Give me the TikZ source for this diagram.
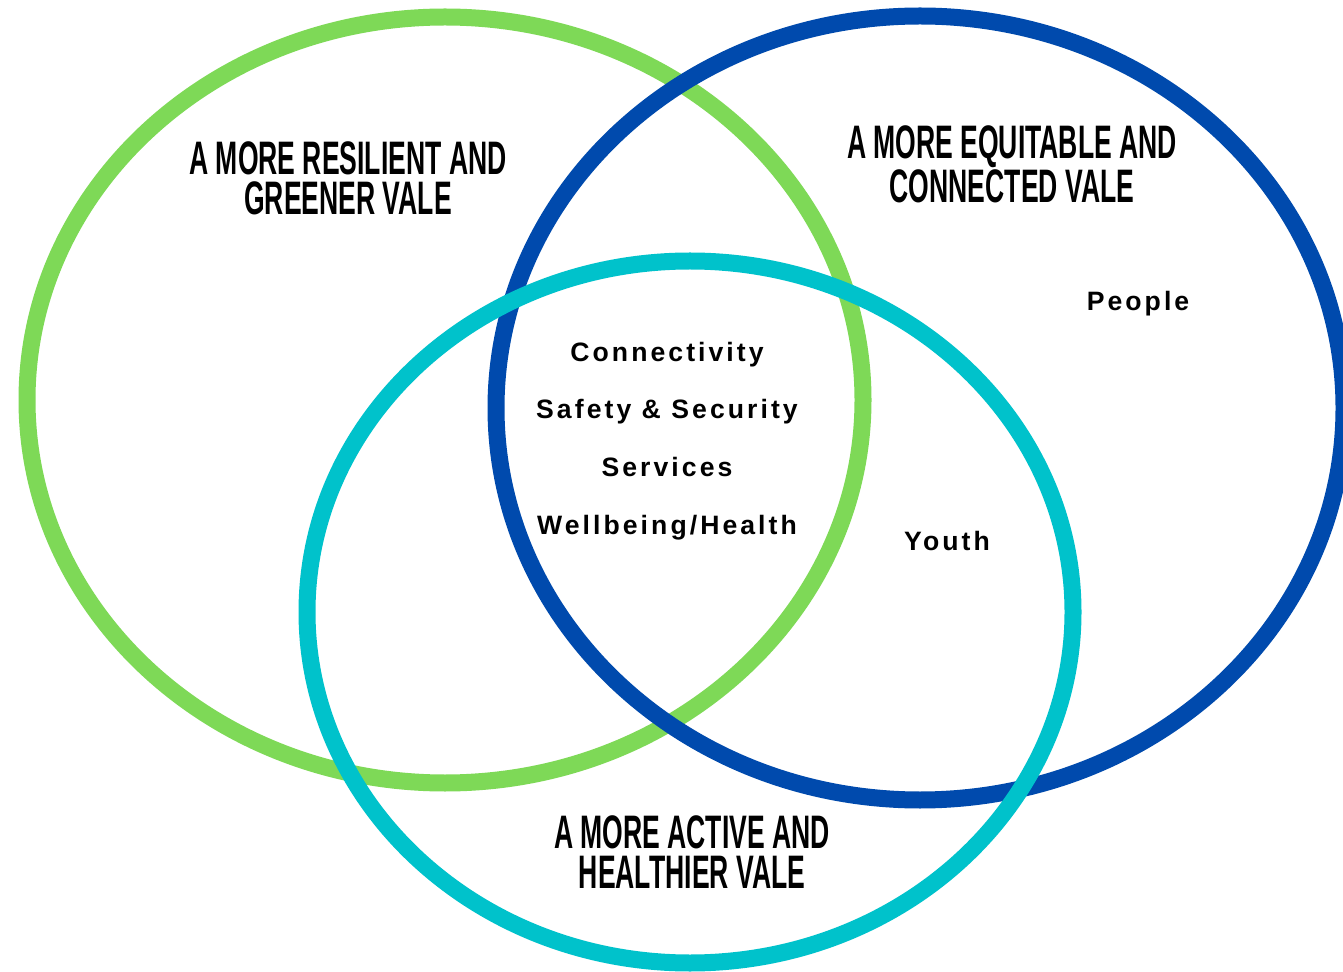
\documentclass[tikz,border=0pt]{standalone}
\usepackage{fontspec}
\setmainfont{Liberation Sans}
\newfontfamily\headfont[FakeStretch=0.565]{Liberation Sans}
\newfontfamily\bodyfont[LetterSpace=11.5]{Liberation Sans}
\definecolor{vgreen}{HTML}{7ED957}
\definecolor{vblue}{HTML}{004AAD}
\definecolor{vcyan}{HTML}{00C2CB}
\tikzset{
  ring/.style={line width=8.5pt},
  heading/.style={font=\headfont\bfseries\fontsize{23.5pt}{20pt}\selectfont, align=center, anchor=base, inner sep=0pt},
  item/.style={font=\bodyfont\bfseries\fontsize{13.3pt}{16pt}\selectfont, anchor=base, inner sep=0pt},
}
\begin{document}
\begin{tikzpicture}[x=0.5pt,y=-0.5pt]
\useasboundingbox (0,0) rectangle (1343,972);
\clip (0,0) rectangle (1343,972);
\fill[white] (0,0) rectangle (1343,972);
% ellipses: green bottom, blue middle, cyan top
\draw[ring, vgreen] (445,400) ellipse [x radius=209pt, y radius=191.5pt];
\draw[ring, vblue] (920,408) ellipse [x radius=212pt, y radius=196pt];
\draw[ring, vcyan] (690,612) ellipse [x radius=191.5pt, y radius=175.5pt];
% headings (anchor at baseline of last line)
\node[heading] (green) at (348,215) {A MORE RESILIENT AND\\GREENER VALE};
\node[heading] (blue) at (1012,203) {A MORE EQUITABLE AND\\CONNECTED VALE};
\node[heading] (cyan) at (692,888) {A MORE ACTIVE AND\\HEALTHIER VALE};
% items
\node[item] (people) at (1138,311) {People};
\node[item] (conn) at (667,362) {Connectivity};
\node[item] (safety) at (667,419) {Safety \& Security};
\node[item] (serv) at (667,477) {Services};
\node[item] (well) at (667,534) {Wellbeing/Health};
\node[item] (youth) at (947,551) {Youth};
\end{tikzpicture}
\end{document}
